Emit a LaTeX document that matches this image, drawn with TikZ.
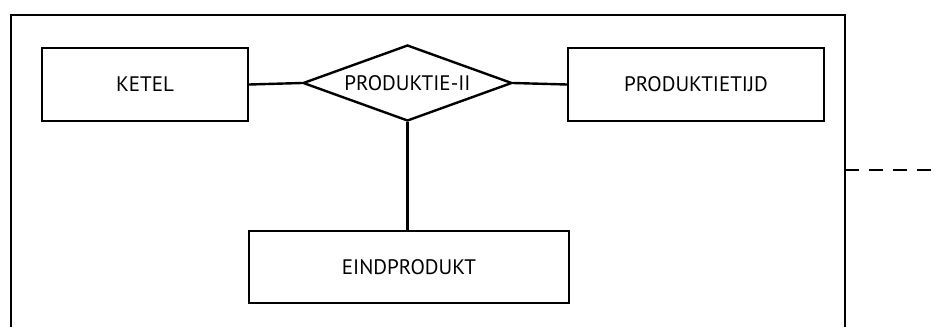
\documentclass[tikz,border=0pt]{standalone}
\usepackage{fontspec}
\setmainfont{PT Sans}
\usetikzlibrary{shapes.geometric}
\begin{document}
\begin{tikzpicture}[x=1pt,y=-1pt,
  ent/.style={draw,line width=2.4pt,inner sep=0pt,font=\fontsize{21}{23}\selectfont},
  rel/.style={draw,diamond,line width=2.4pt,inner sep=0pt,aspect=2.75,minimum width=209pt,minimum height=76pt,font=\fontsize{21}{23}\selectfont},
  conn/.style={line width=2.4pt}]
\useasboundingbox (0,0) rectangle (937,327);
\draw[conn] (11,327) -- (11,15) -- (845,15) -- (845,327);
\node[ent,minimum width=206pt,minimum height=73pt] (ketel) at (145,84.5) {KETEL};
\node[rel] (prod) at (407.5,83) {PRODUKTIE-II};
\node[ent,minimum width=256pt,minimum height=73pt] (tijd) at (696,84.5) {PRODUKTIETIJD};
\node[ent,minimum width=320pt,minimum height=72pt] (eind) at (409,267) {EINDPRODUKT};
\draw[conn] (ketel.east) -- (prod.west);
\draw[conn] (prod.east) -- (tijd.west);
\draw[conn] (prod.south) -- (prod.south |- eind.north);
\coordinate (fr) at (845,170);
\coordinate (dashend) at (937,170);
\draw[conn,dash pattern=on 14pt off 10pt] (fr) -- (dashend);
\end{tikzpicture}
\end{document}
